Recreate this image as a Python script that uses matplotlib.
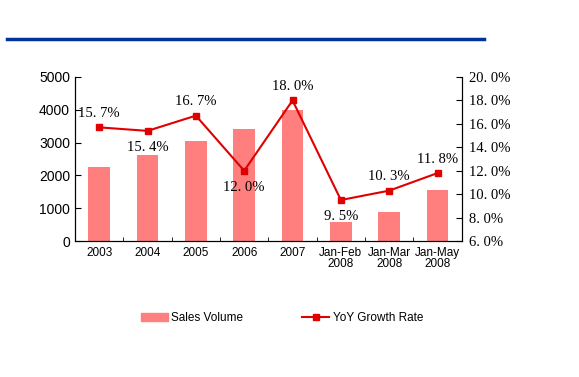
import matplotlib
matplotlib.use("Agg")
import matplotlib.pyplot as plt
from matplotlib.lines import Line2D
from matplotlib.patches import Patch
import numpy as np

# data
categories = ["2003", "2004", "2005", "2006", "2007", "Jan-Feb\n2008", "Jan-Mar\n2008", "Jan-May\n2008"]
sales = [2250, 2620, 3050, 3410, 3990, 580, 880, 1550]
growth = [15.7, 15.4, 16.7, 12.0, 18.0, 9.5, 10.3, 11.8]
label_pos = ["above", "below", "above", "below", "above", "below", "above", "above"]

bar_color = "#ff7f7f"
line_color = "#e00000"
serif = "Liberation Serif"
sans = "Liberation Sans"

fig = plt.figure(figsize=(5.79, 3.77), dpi=100)
ax = fig.add_axes([0.1295, 0.3607, 0.668, 0.4351])
ax2 = ax.twinx()

x = np.arange(len(categories))
ax.bar(x, sales, width=0.45, color=bar_color, zorder=1)
ax.set_xlim(-0.5, len(categories) - 0.5)
ax.set_ylim(0, 5000)
ax.set_yticks(range(0, 5001, 1000))
ax.set_xticks(x)
ax.set_xticklabels(categories, fontfamily=sans, fontsize=8.5, linespacing=0.9)
ax.set_xticks(np.arange(-0.5, len(categories), 1), minor=True)
ax.tick_params(axis="x", which="major", length=0, pad=4)
ax.tick_params(axis="x", which="minor", direction="in", length=3)
ax.tick_params(axis="y", direction="in", length=4, labelsize=10)
for t in ax.get_yticklabels():
    t.set_fontfamily(sans)
ax.spines["top"].set_visible(False)

ax2.plot(x, growth, color=line_color, marker="s", markersize=5, linewidth=1.5, zorder=3)
ax2.set_ylim(6, 20)
ax2.set_yticks(range(6, 21, 2))
ax2.set_yticklabels(["%d. 0%%" % v for v in range(6, 21, 2)], fontfamily=serif, fontsize=10.5)
ax2.tick_params(axis="y", direction="in", length=4, pad=5)
ax2.spines["top"].set_visible(False)

for xi, g, pos in zip(x, growth, label_pos):
    txt = ("%.1f%%" % g).replace(".", ". ")
    dy = 10 if pos == "above" else -12
    ax2.annotate(txt, (xi, g), xytext=(0, dy), textcoords="offset points",
                 ha="center", va="center", fontfamily=serif, fontsize=10.5)

# blue rule on top
fig.add_artist(Line2D([7 / 579, 484 / 579], [1 - 39 / 377, 1 - 39 / 377],
                      color="#003399", linewidth=2.5))

handles = [Patch(color=bar_color, label="Sales Volume"),
           Line2D([], [], color=line_color, marker="s", markersize=4, linewidth=1.5,
                  label="YoY Growth Rate")]
fig.legend(handles=handles, loc="center", bbox_to_anchor=(0.487, 1 - 318 / 377), ncol=2,
           frameon=False, prop={"family": sans, "size": 8.5}, columnspacing=5,
           handlelength=2.3, handletextpad=0.3)

fig.savefig("out.png", dpi=100)
